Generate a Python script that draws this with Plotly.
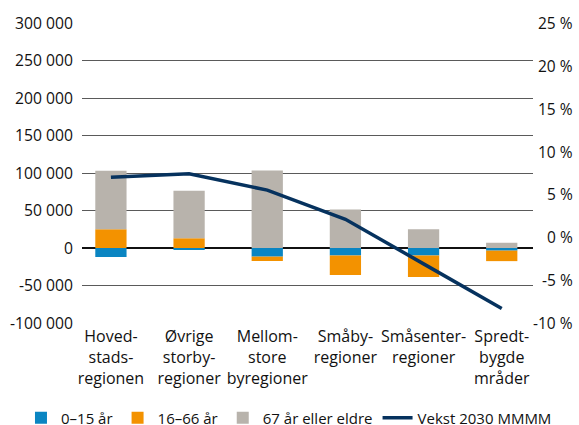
import plotly.graph_objects as go

categories = ["Hoved-<br>stads-<br>regionen", "Øvrige<br>storby-<br>regioner", "Mellom-<br>store<br>byregioner",
              "Småby-<br>regioner", "Småsenter-<br>regioner", "Spredt-<br>bygde<br>mråder"]
age_0_15 = [-12000, -2000, -11500, -10000, -10000, -3500]
age_16_66 = [25000, 13000, -5800, -26000, -28500, -14000]
age_67_plus = [78000, 63500, 103500, 51500, 25000, 7000]
vekst_pct = [7.0, 7.4, 5.5, 2.1, -3.1, -8.3]

left_tickvals = [-100000, -50000, 0, 50000, 100000, 150000, 200000, 250000, 300000]
left_ticktext = ["-100 000", "-50 000", "0", "50 000", "100 000", "150 000", "200 000", "250 000", "300 000"]
right_tickvals = [-10, -5, 0, 5, 10, 15, 20, 25]
right_ticktext = ["-10 %", "-5 %", "0 %", "5 %", "10 %", "15 %", "20 %", "25 %"]

FONT = "Open Sans"
BLUE = "#0a85c2"
ORANGE = "#f39200"
GREY = "#b8b3ac"
NAVY = "#06325e"
GRID = "#5a5a5a"
TXT = "#111111"

fig = go.Figure()
fig.add_trace(go.Bar(x=categories, y=age_0_15, name="0–15 år", marker=dict(color=BLUE, line=dict(width=0)), width=0.4))
fig.add_trace(go.Bar(x=categories, y=age_16_66, name="16–66 år", marker=dict(color=ORANGE, line=dict(width=0)), width=0.4))
fig.add_trace(go.Bar(x=categories, y=age_67_plus, name="67 år eller eldre", marker=dict(color=GREY, line=dict(width=0)), width=0.4))
fig.add_trace(go.Scatter(x=categories, y=vekst_pct, name="Vekst 2030 MMMM", mode="lines",
                         line=dict(color=NAVY, width=3.5), yaxis="y2"))

# right-axis labels, right-aligned like the reference, positioned by the y2 scale
for v, t in zip(right_tickvals, right_ticktext):
    fig.add_annotation(x=1.0931, xref="paper", y=v, yref="y2", text=t, showarrow=False,
                       xanchor="right", yanchor="middle", font=dict(family=FONT, size=15.5, color=TXT))

fig.update_layout(
    width=579, height=425,
    margin=dict(l=82, r=46, t=23, b=102, autoexpand=False),
    barmode="relative",
    paper_bgcolor="white", plot_bgcolor="white",
    font=dict(family=FONT, size=16, color=TXT),
    xaxis=dict(type="category", range=[-0.37, 5.40], showgrid=False, showline=False, ticks="",
               tickfont=dict(size=16), automargin=False, ticklabelstandoff=2),
    yaxis=dict(range=[-100000, 300000], tickvals=left_tickvals, ticktext=left_ticktext,
               tickfont=dict(size=15.7),
               showgrid=True, gridcolor=GRID, gridwidth=1, zeroline=True, zerolinecolor="#111111",
               zerolinewidth=2, ticks="", showline=False, ticklabelstandoff=8,
               automargin=False),
    yaxis2=dict(range=[-10, 25], tickvals=right_tickvals, overlaying="y", showticklabels=False,
                side="right", showgrid=False, zeroline=False, showline=False, ticks="",
                automargin=False),
    legend=dict(orientation="h", x=-0.1353, xanchor="left", y=-0.3167, yanchor="middle",
                font=dict(size=15), itemwidth=30, traceorder="normal"),
    showlegend=True,
)

fig.write_html("out.html", config={"displayModeBar": False},
               post_script="document.body.style.margin='0';document.body.style.overflow='hidden';")
